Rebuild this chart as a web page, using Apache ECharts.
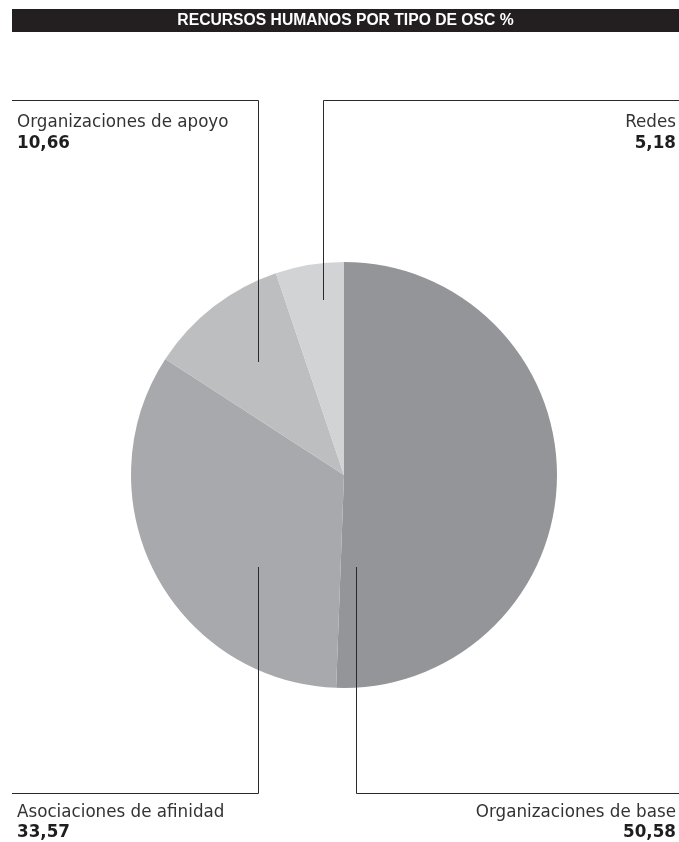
<!DOCTYPE html>
<html><head><meta charset="utf-8">
<script src="https://cdn.jsdelivr.net/npm/echarts@6/dist/echarts.min.js"></script>
<style>html,body{margin:0;padding:0;background:#fff}#c{width:679px;height:842px}</style>
</head><body><div id="c"></div>
<script>
const title = 'RECURSOS HUMANOS POR TIPO DE OSC %';
const categories = ['Organizaciones de base','Asociaciones de afinidad','Organizaciones de apoyo','Redes'];
const values = [50.58, 33.57, 10.66, 5.18];
const valueLabels = ['50,58','33,57','10,66','5,18'];
const colors = ['#949598','#a8a9ac','#bdbec0','#d2d3d5'];

const chart = echarts.init(document.getElementById('c'), null, {renderer:'canvas'});
const labelFont = '"DejaVu Sans", Verdana, sans-serif';
const lineStyle = {stroke:'#2a2a2a', lineWidth:1};

const labelPos = [
  {i:0, x:676, y:812, align:'right'},
  {i:1, x:17, y:812, align:'left'},
  {i:2, x:17, y:122.5, align:'left'},
  {i:3, x:676, y:122.5, align:'right'}
];
const graphics = [
  {type:'rect', shape:{x:12,y:9,width:667,height:23}, style:{fill:'#231f20'}},
  {type:'text', x:345.5, y:21, scaleX:0.98, style:{text:title, fill:'#fff', font:'bold 16px "Liberation Sans", Arial, sans-serif', align:'center', verticalAlign:'middle'}},
  {type:'polyline', shape:{points:[[12,100.5],[258.5,100.5],[258.5,362]]}, style:lineStyle, z:10},
  {type:'polyline', shape:{points:[[679,100.5],[323.5,100.5],[323.5,300]]}, style:lineStyle, z:10},
  {type:'polyline', shape:{points:[[679,793.5],[356.5,793.5],[356.5,567]]}, style:lineStyle, z:10},
  {type:'polyline', shape:{points:[[12,793.5],[258.5,793.5],[258.5,567]]}, style:lineStyle, z:10}
];
labelPos.forEach(p => {
  graphics.push({type:'text', x:p.x, y:p.y, scaleX:0.93, style:{text:categories[p.i], fill:'#333', font:'18px '+labelFont, align:p.align, verticalAlign:'middle'}});
  graphics.push({type:'text', x:p.x, y:p.y+20.5, scaleX:0.93, style:{text:valueLabels[p.i], fill:'#1e1e1e', font:'bold 18px '+labelFont, align:p.align, verticalAlign:'middle'}});
});

chart.setOption({
  animation:false,
  color: colors,
  series:[{
    type:'pie',
    center:[344,475],
    radius:[0,213],
    startAngle:90,
    clockwise:true,
    label:{show:false},
    labelLine:{show:false},
    emphasis:{disabled:true},
    itemStyle:{borderWidth:0},
    data: categories.map((c,i)=>({name:c, value:values[i]}))
  }],
  graphic: graphics
});
</script></body></html>
